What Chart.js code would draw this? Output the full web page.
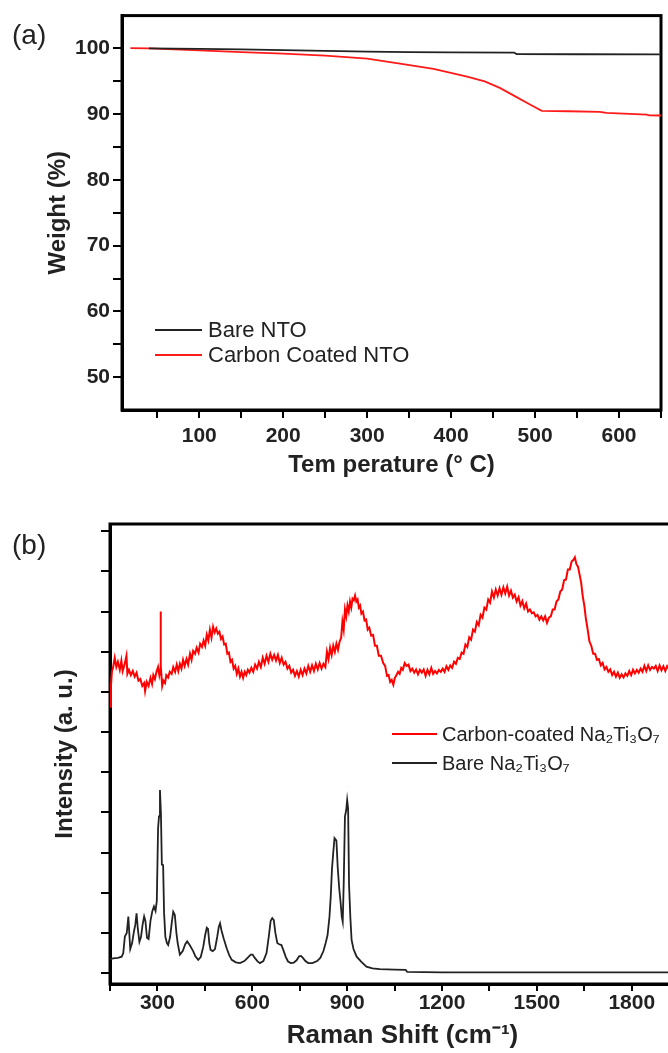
<!DOCTYPE html>
<html><head><meta charset="utf-8">
<script src="https://cdn.jsdelivr.net/npm/chart.js@4/dist/chart.umd.min.js"></script>
<style>
html,body{margin:0;padding:0;width:668px;height:1053px;overflow:hidden;background:#fff;}
#wa{position:absolute;left:0;top:0;width:668px;height:490px;}
#wb{position:absolute;left:0;top:490px;width:700px;height:563px;}
.pl{position:absolute;font-family:"Liberation Sans",Arial,sans-serif;font-size:28px;color:#222;line-height:32px;}
</style></head>
<body>
<div id="wa"><canvas id="ca" width="668" height="490"></canvas></div>
<div id="wb"><canvas id="cb" width="700" height="563"></canvas></div>
<div class="pl" style="left:12px;top:19px">(a)</div>
<div class="pl" style="left:12px;top:529px">(b)</div>
<script>
// ---------- (a) TGA data ----------
const tempBare     = [40, 100, 150, 200, 250, 300, 350, 400, 475, 478, 550, 650];
const weightBare   = [100.0, 99.95, 99.85, 99.75, 99.62, 99.52, 99.44, 99.4, 99.38, 99.15, 99.12, 99.1];
const tempCoated   = [18, 40, 100, 150, 200, 250, 300, 339, 379, 419, 440, 458, 478, 495, 508, 540, 577, 585, 633, 636, 650];
const weightCoated = [100.05, 100.0, 99.7, 99.45, 99.2, 98.9, 98.45, 97.7, 96.9, 95.7, 95.0, 94.0, 92.6, 91.4, 90.5, 90.45, 90.35, 90.2, 89.95, 89.82, 89.8];
const tempTicks    = [50, 100, 150, 200, 250, 300, 350, 400, 450, 500, 550, 600, 650];
const tempLabels   = [100, 200, 300, 400, 500, 600];
const weightTicks  = [50, 55, 60, 65, 70, 75, 80, 85, 90, 95, 100];
const weightLabels = [50, 60, 70, 80, 90, 100];

// ---------- (b) Raman data ----------
const ramanBareShift = [
 150,160,175,187,192,197,203,208,211,214,
 220,226,230,234,238,243,248,253,258,262,
 267,272,278,284,289,294,298,302,305,308,
 311,314,318,321,325,330,334,340,346,350,
 355,360,364,371,380,388,394,402,413,420,
 429,437,445,451,456,460,464,468,475,482,
 489,494,498,503,510,519,527,535,548,561,
 575,585,595,601,608,616,624,635,645,652,
 658,663,668,673,679,685,692,698,706,713,
 722,731,740,748,754,760,768,777,790,805,
 815,825,832,838,844,848,852,856,860,866,
 870,875,879,883,886,889,893,897,900,903,
 906,910,914,920,930,945,961,980,1003,1050,
 1085,1090,1200,1400,1600,1800,2000];
const ramanBareInt = [
 0.35,0.37,0.38,0.41,0.5,0.91,1.0,1.41,1.0,0.6,
 0.75,1.05,1.2,1.49,1.1,0.78,0.9,1.2,1.41,1.3,
 0.88,0.85,1.3,1.55,1.66,1.55,1.8,3.6,3.9,4.56,
 4.0,2.7,2.69,1.5,0.91,0.75,0.70,0.9,1.3,1.53,
 1.45,1.0,0.75,0.46,0.55,0.72,0.79,0.7,0.55,0.42,
 0.33,0.4,0.66,0.95,1.13,1.1,0.75,0.58,0.55,0.6,
 0.9,1.15,1.24,1.05,0.85,0.62,0.45,0.33,0.27,0.25,
 0.3,0.38,0.46,0.46,0.38,0.3,0.25,0.3,0.5,0.9,
 1.3,1.37,1.32,1.0,0.75,0.72,0.7,0.58,0.4,0.29,
 0.25,0.26,0.32,0.42,0.43,0.38,0.3,0.25,0.25,0.3,
 0.38,0.55,0.75,0.95,1.4,1.9,2.6,3.0,3.36,3.3,
 2.65,2.1,1.78,1.4,1.28,2.2,3.9,4.06,4.31,4.1,
 2.2,1.4,0.83,0.6,0.41,0.28,0.16,0.12,0.10,0.09,
 0.08,0.03,0.02,0.02,0.02,0.02,0.02];

const ramanCoatedShift = [
 150,153,156,160,165,170,175,181,186,190,
 196,202,205,210,216,222,228,234,240,246,
 252,258,261,266,272,278,283,287,292,297,
 302,306,309,310,311,315,319,324,328,334,
 339,345,350,356,361,366,371,376,381,386,
 392,397,403,408,413,419,424,430,435,441,
 446,451,456,461,466,471,476,481,486,491,
 496,501,506,511,516,521,526,531,536,541,
 546,551,556,561,566,571,576,581,586,591,
 597,603,609,615,621,627,633,639,645,651,
 657,663,669,675,681,687,693,699,705,711,
 717,723,729,735,741,747,753,759,765,771,
 777,783,789,795,801,807,813,819,825,831,
 836,841,846,851,856,861,866,871,876,881,
 885,889,893,897,901,905,909,913,917,921,
 925,929,933,937,941,945,950,955,960,965,
 970,976,982,988,994,1000,1007,1014,1020,1026,
 1031,1036,1041,1046,1051,1056,1061,1066,1071,1076,
 1082,1088,1094,1100,1106,1112,1118,1124,1130,1136,
 1142,1148,1154,1160,1166,1172,1178,1184,1190,1196,
 1202,1208,1214,1220,1226,1232,1238,1244,1250,1256,
 1262,1268,1274,1280,1286,1292,1298,1304,1310,1316,
 1322,1328,1334,1340,1346,1352,1358,1364,1370,1376,
 1382,1388,1394,1400,1406,1412,1418,1424,1430,1436,
 1442,1448,1454,1460,1466,1472,1478,1484,1490,1496,
 1502,1508,1514,1520,1526,1532,1538,1544,1550,1556,
 1562,1568,1574,1580,1586,1592,1598,1604,1610,1615,
 1620,1625,1630,1635,1640,1645,1650,1655,1660,1666,
 1672,1678,1684,1690,1696,1702,1708,1714,1720,1726,
 1732,1738,1744,1750,1756,1762,1768,1774,1780,1786,
 1792,1798,1804,1810,1816,1822,1828,1834,1840,1846,
 1852,1858,1864,1870,1876,1882,1888,1894,1900,1906,
 1912,1920,1930,1940,1950,1960,1970,1980,1990,2000];
const ramanCoatedInt = [
 6.63,7.15,7.5,7.62,7.85,7.62,7.75,7.55,7.78,7.52,
 7.68,7.9,7.45,7.55,7.42,7.52,7.38,7.48,7.28,7.32,
 7.15,7.22,7.02,7.25,7.15,7.35,7.2,7.42,7.32,7.5,
 7.62,7.42,7.55,9.0,7.65,7.15,7.28,7.22,7.42,7.36,
 7.5,7.45,7.62,7.5,7.68,7.52,7.7,7.58,7.8,7.65,
 7.82,7.68,7.95,7.8,8.02,7.95,8.1,7.98,8.2,8.12,
 8.28,8.15,8.42,8.28,8.55,8.35,8.62,8.48,8.58,8.45,
 8.5,8.32,8.38,8.18,8.2,7.95,7.98,7.75,7.8,7.58,
 7.65,7.45,7.58,7.38,7.5,7.35,7.5,7.42,7.55,7.48,
 7.6,7.5,7.68,7.58,7.75,7.62,7.85,7.7,7.9,7.75,
 7.95,7.8,7.92,7.78,7.92,7.72,7.85,7.68,7.75,7.58,
 7.65,7.48,7.55,7.4,7.52,7.38,7.55,7.42,7.58,7.46,
 7.65,7.5,7.66,7.52,7.7,7.56,7.72,7.58,7.7,7.62,
 8.0,7.82,8.1,7.92,8.15,8.0,8.2,8.05,8.25,8.35,
 8.75,8.55,9.05,8.88,9.15,9.0,9.25,9.1,9.32,9.28,
 9.4,9.25,9.3,9.1,9.15,8.95,9.0,8.78,8.8,8.55,
 8.6,8.4,8.42,8.15,8.15,7.9,7.9,7.72,7.65,7.4,
 7.42,7.25,7.3,7.18,7.35,7.42,7.5,7.45,7.6,7.55,
 7.72,7.65,7.68,7.52,7.58,7.48,7.56,7.44,7.55,7.48,
 7.56,7.4,7.55,7.44,7.6,7.45,7.52,7.46,7.55,7.5,
 7.58,7.5,7.64,7.55,7.66,7.6,7.75,7.7,7.85,7.82,
 7.98,7.95,8.18,8.12,8.36,8.3,8.55,8.5,8.74,8.66,
 8.92,8.85,9.1,9.05,9.3,9.22,9.5,9.35,9.55,9.4,
 9.58,9.42,9.6,9.45,9.62,9.4,9.52,9.35,9.42,9.25,
 9.36,9.15,9.26,9.08,9.2,9.0,9.05,8.96,8.98,8.88,
 8.92,8.8,8.88,8.78,8.88,8.72,8.85,8.88,9.05,9.05,
 9.25,9.3,9.5,9.55,9.78,9.8,10.05,10.05,10.25,10.28,
 10.35,10.18,10.12,9.92,9.72,9.38,9.15,8.82,8.58,8.26,
 8.15,7.95,7.95,7.8,7.82,7.66,7.72,7.56,7.62,7.5,
 7.56,7.42,7.5,7.38,7.48,7.35,7.44,7.36,7.46,7.4,
 7.52,7.42,7.55,7.46,7.55,7.48,7.58,7.5,7.65,7.52,
 7.66,7.55,7.62,7.58,7.65,7.52,7.66,7.54,7.64,7.52,
 7.64,7.55,7.62,7.54,7.64,7.56,7.62,7.55,7.62,7.56];
const shiftTicks     = [150,300,450,600,750,900,1050,1200,1350,1500,1650,1800,1950];
const shiftLabels    = [300,600,900,1200,1500,1800];
const intensityTicks = [0,1,2,3,4,5,6,7,8,9,10,11];

// ---------- helpers ----------
const FONT = '"Liberation Sans", Arial, sans-serif';
function pts(xs, ys){ return xs.map((x,i)=>({x:x, y:ys[i]})); }

const framePlugin = {
  id:'frame',
  beforeDatasetsDraw(chart){
    const {ctx, chartArea:a} = chart;
    ctx.save(); ctx.strokeStyle='#000'; ctx.lineWidth=3;
    ctx.strokeRect(a.left, a.top, a.right-a.left, a.bottom-a.top);
    ctx.restore();
  }
};
const inLegend = {
  id:'inLegend',
  afterDraw(chart, args, o){
    const ctx = chart.ctx;
    ctx.save();
    ctx.font = o.font; ctx.textBaseline='middle'; ctx.textAlign='left';
    o.order.forEach((di,k)=>{
      const ds = chart.data.datasets[di];
      const y = o.y + k*o.dy;
      ctx.strokeStyle = ds.borderColor; ctx.lineWidth = 2;
      ctx.beginPath(); ctx.moveTo(o.x, y); ctx.lineTo(o.x+o.len, y); ctx.stroke();
      ctx.fillStyle = o.color;
      ctx.fillText(ds.label, o.x+o.len+o.gap, y+1);
    });
    ctx.restore();
  }
};
function tickSetter(arr){ return (s)=>{ s.ticks = arr.map(v=>({value:v})); }; }
const gridOpt = (len)=>({display:true, drawOnChartArea:false, drawTicks:true, tickLength:len, color:'#000', lineWidth:2});
const tickFont = {family:FONT, size:21, weight:'bold'};

// ---------- chart (a) ----------
new Chart(document.getElementById('ca'), {
  type:'line',
  data:{ datasets:[
    {label:'Bare NTO', data:pts(tempBare, weightBare), borderColor:'#222', borderWidth:1.8, pointRadius:0, tension:0},
    {label:'Carbon Coated NTO', data:pts(tempCoated, weightCoated), borderColor:'#ff1a1a', borderWidth:1.8, pointRadius:0, tension:0}
  ]},
  options:{
    responsive:false, animation:false, devicePixelRatio:1,
    layout:{padding:{left:0, top:15, right:7, bottom:0}},
    plugins:{ legend:{display:false}, tooltip:{enabled:false},
      inLegend:{x:155, y:330, dy:25, len:47, gap:6, font:'22px '+FONT, color:'#222', order:[0,1]} },
    scales:{
      x:{ type:'linear', min:8, max:650,
        afterFit(s){ s.height = 80; }, afterBuildTicks:tickSetter(tempTicks),
        ticks:{autoSkip:false, maxRotation:0, padding:6, color:'#222', font:tickFont,
          callback:(v)=> tempLabels.includes(v) ? String(v) : ''},
        grid:gridOpt(8), border:{display:true, color:'#000', width:3},
        title:{display:true, text:'Tem perature (° C)', color:'#222', font:{family:FONT, size:24, weight:'bold'}, padding:{top:0, bottom:10}} },
      y:{ type:'linear', min:45, max:105,
        afterFit(s){ s.width = 122; }, afterBuildTicks:tickSetter(weightTicks),
        ticks:{autoSkip:false, padding:3, color:'#222', font:tickFont,
          callback:(v)=> weightLabels.includes(v) ? String(v) : ''},
        grid:gridOpt(9), border:{display:true, color:'#000', width:3},
        title:{display:true, text:'Weight (%)', color:'#222', font:{family:FONT, size:24, weight:'bold'}, padding:{top:44, bottom:0}} }
    }
  },
  plugins:[framePlugin, inLegend]
});

// ---------- chart (b) ----------
new Chart(document.getElementById('cb'), {
  type:'line',
  data:{ datasets:[
    {label:'Carbon-coated Na₂Ti₃O₇', data:pts(ramanCoatedShift, ramanCoatedInt), borderColor:'#ff0000', borderWidth:2, pointRadius:0, tension:0},
    {label:'Bare Na₂Ti₃O₇', data:pts(ramanBareShift, ramanBareInt), borderColor:'#222', borderWidth:1.8, pointRadius:0, tension:0}
  ]},
  options:{
    responsive:false, animation:false, devicePixelRatio:1,
    layout:{padding:{left:0, top:34, right:5, bottom:0}},
    plugins:{ legend:{display:false}, tooltip:{enabled:false},
      inLegend:{x:392, y:244, dy:29, len:45, gap:5, font:'20px '+FONT, color:'#222', order:[0,1]} },
    scales:{
      x:{ type:'linear', min:150, max:2000,
        afterFit(s){ s.height = 69; }, afterBuildTicks:tickSetter(shiftTicks),
        ticks:{autoSkip:false, maxRotation:0, padding:0, color:'#222', font:tickFont,
          callback:(v)=> shiftLabels.includes(v) ? String(v) : ''},
        grid:gridOpt(7), border:{display:true, color:'#000', width:3},
        title:{display:true, text:'Raman Shift (cm⁻¹)', color:'#222', font:{family:FONT, size:26, weight:'bold'}, padding:{top:0, bottom:2}} },
      y:{ type:'linear', min:-0.27, max:11.18,
        afterFit(s){ s.width = 110; }, afterBuildTicks:tickSetter(intensityTicks),
        ticks:{autoSkip:false, padding:0, callback:()=>''},
        grid:gridOpt(9), border:{display:true, color:'#000', width:3},
        title:{display:true, text:'Intensity (a. u.)', color:'#222', font:{family:FONT, size:24, weight:'bold'}, padding:{top:51, bottom:0}} }
    }
  },
  plugins:[framePlugin, inLegend]
});
</script>
</body></html>
